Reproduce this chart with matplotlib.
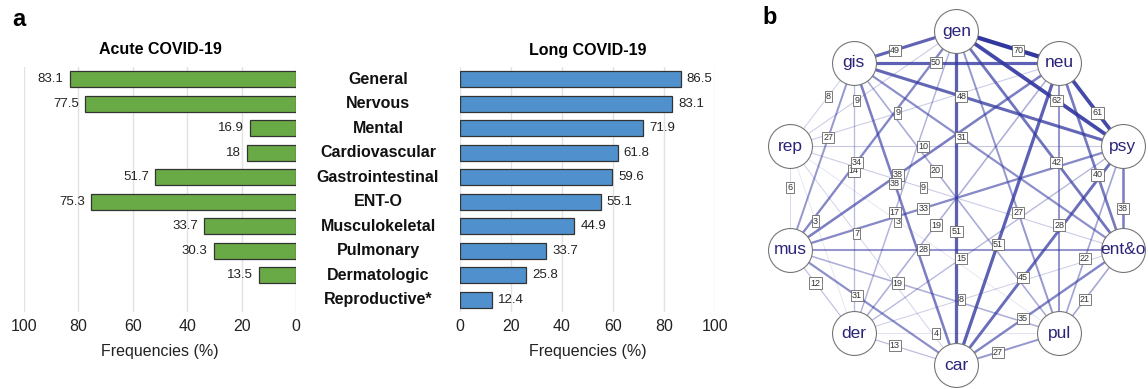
import numpy as np
import matplotlib
matplotlib.use("Agg")
import matplotlib.pyplot as plt
from matplotlib import transforms

plt.rcParams['font.family'] = ['Liberation Sans', 'DejaVu Sans']

# ---------------- data ----------------
categories = ["General", "Nervous", "Mental", "Cardiovascular", "Gastrointestinal",
              "ENT-O", "Musculokeletal", "Pulmonary", "Dermatologic", "Reproductive*"]
acute = [83.1, 77.5, 16.9, 18, 51.7, 75.3, 33.7, 30.3, 13.5, np.nan]
long_covid = [86.5, 83.1, 71.9, 61.8, 59.6, 55.1, 44.9, 33.7, 25.8, 12.4]
ticks = [0, 20, 40, 60, 80, 100]

nodes = ["gen", "neu", "psy", "ent&o", "pul", "car", "der", "mus", "rep", "gis"]
# co-occurrence weights, same node order as above
weights = [
    [0, 70, 62, 42, 27, 51, 17, 34, 9, 49],
    [70, 0, 61, 40, 28, 51, 19, 38, 9, 50],
    [62, 61, 0, 38, 22, 45, 15, 33, 10, 48],
    [42, 40, 38, 0, 21, 35, 8, 28, 9, 31],
    [27, 28, 22, 21, 0, 27, 4, 19, 3, 20],
    [51, 51, 45, 35, 27, 0, 13, 31, 7, 38],
    [17, 19, 15, 8, 4, 13, 0, 12, 3, 14],
    [34, 38, 33, 28, 19, 31, 12, 0, 6, 27],
    [9, 9, 10, 9, 3, 7, 3, 6, 0, 8],
    [49, 50, 48, 31, 20, 38, 14, 27, 8, 0],
]

GREEN = "#6aaa46"
BLUE = "#5091cd"
EDGE_DARK = "#3237a0"
NODE_TXT = "#2a2478"

W, H = 1148, 389
fig = plt.figure(figsize=(W / 100, H / 100), dpi=100)

def px_box(left, top, right, bottom):
    return [left / W, 1 - bottom / H, (right - left) / W, (bottom - top) / H]

y = np.arange(len(categories))

def style_bar_axis(ax, title):
    ax.set_ylim(len(categories) - 0.5, -0.5)
    ax.set_xticks(ticks)
    ax.set_yticks([])
    ax.tick_params(axis="x", length=0, labelsize=11.5, pad=5, colors="#222222")
    for s in ax.spines.values():
        s.set_visible(False)
    ax.grid(axis="x", color="#e2e2e2", lw=1)
    ax.set_axisbelow(True)
    ax.set_xlabel("Frequencies (%)", fontsize=11.5, labelpad=7, color="#222222")
    ax.set_title(title, fontsize=11.5, fontweight="bold", pad=9)

# ---- acute (left, mirrored) ----
ax_a = fig.add_axes(px_box(24, 67, 296, 312))
ax_a.barh(y, acute, height=0.65, color=GREEN, edgecolor="#333333", lw=0.9)
ax_a.set_xlim(100, 0)
style_bar_axis(ax_a, "Acute COVID-19")
for yi, v in zip(y, acute):
    if np.isnan(v):
        continue
    ax_a.annotate(f"{v:g}", (v, yi), xytext=(-4.5, 0), textcoords="offset points",
                  ha="right", va="center", fontsize=9.5, color="#222222")

# ---- long (right) ----
ax_l = fig.add_axes(px_box(460, 67, 715, 312))
ax_l.barh(y, long_covid, height=0.65, color=BLUE, edgecolor="#333333", lw=0.9)
ax_l.set_xlim(0, 100)
style_bar_axis(ax_l, "Long COVID-19")
for yi, v in zip(y, long_covid):
    ax_l.annotate(f"{v:g}", (v, yi), xytext=(4.5, 0), textcoords="offset points",
                  ha="left", va="center", fontsize=9.5, color="#222222")

# category names between the two panels
tr = transforms.blended_transform_factory(fig.transFigure, ax_l.transData)
for yi, c in zip(y, categories):
    fig.text(378 / W, yi, c, transform=tr, ha="center", va="center",
             fontsize=11.5, fontweight="bold", color="#111111")

# ---- network (b) ----
lim = 1.15
rx, ry, cx, cy = 175, 167, 956.5, 198
ax_n = fig.add_axes(px_box(cx - lim * rx, cy - lim * ry, cx + lim * rx, cy + lim * ry))
ax_n.set_xlim(-lim, lim)
ax_n.set_ylim(-lim, lim)
ax_n.axis("off")

ang = np.deg2rad(90 - 36 * np.arange(len(nodes)))
pos = np.column_stack([np.cos(ang), np.sin(ang)])
wmat = np.array(weights, dtype=float)
wmax = wmat.max()

pairs = [(i, j) for i in range(len(nodes)) for j in range(i + 1, len(nodes))]
pairs.sort(key=lambda p: wmat[p])
for i, j in pairs:
    w = wmat[i, j]
    f = w / wmax
    lw = (0.6 + 3.6 * f) * 0.72
    alpha = 0.08 + 0.92 * f ** 0.8
    ax_n.plot([pos[i, 0], pos[j, 0]], [pos[i, 1], pos[j, 1]], color=EDGE_DARK,
              lw=lw, alpha=alpha, solid_capstyle="butt", zorder=1)

for i, j in pairs:
    lp = pos[i] + 0.6 * (pos[j] - pos[i])
    ax_n.text(lp[0], lp[1], f"{int(wmat[i, j])}", fontsize=6.5, color="#333333",
              ha="center", va="center", zorder=3,
              bbox=dict(boxstyle="square,pad=0.12", fc="white", ec="#666666", lw=0.6))

ax_n.scatter(pos[:, 0], pos[:, 1], s=1000, facecolor="white", edgecolor="#777777",
             lw=0.8, zorder=4)
for (px, py), name in zip(pos, nodes):
    ax_n.text(px, py, name, ha="center", va="center", fontsize=12.5,
              color=NODE_TXT, zorder=5)

fig.text(12 / W, 1 - 20 / H, "a", fontsize=17, fontweight="bold", va="center", ha="left")
fig.text(762 / W, 1 - 17 / H, "b", fontsize=17, fontweight="bold", va="center", ha="left")

fig.savefig("out.png", dpi=100)
